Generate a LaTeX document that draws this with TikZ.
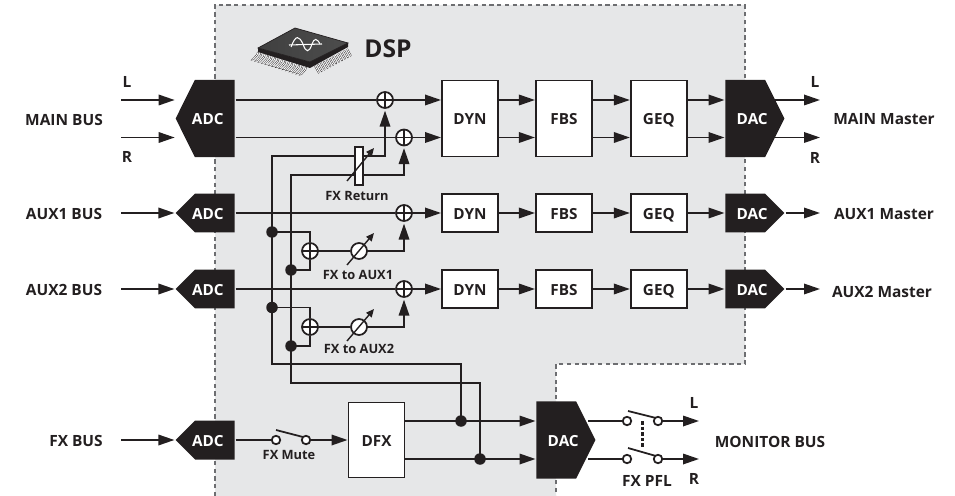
\documentclass[tikz,border=0pt]{standalone}
\usepackage{fontspec}
\setmainfont{Open Sans}
\usetikzlibrary{arrows.meta, positioning, calc, shapes.symbols}
\definecolor{cInk}{HTML}{231F20}
\definecolor{cDSP}{HTML}{E6E7E8}
\definecolor{cEdge}{HTML}{6D6E71}
\newcommand{\toleft}[1]{\makebox[0pt]{#1\hspace{0.28cm}}}
\newcommand{\toright}[1]{\makebox[0pt]{\hspace{0.28cm}#1}}

\begin{document}
\begin{tikzpicture}[
  x=0.02cm, y=-0.02cm, line width=1pt, draw=cInk, text=cInk,
  wire/.style={draw=cInk, line width=1pt},
  arr/.style={wire, -{Triangle[length=3.2mm, width=2.1mm]}},
  tune/.style={wire, line width=0.8pt, -{Triangle[length=1.6mm, width=1.4mm]}},
  box/.style={draw=cInk, line width=1.1pt, fill=white, minimum width=1.12cm, font=\bfseries\fontsize{8.7}{10}\selectfont, inner sep=0pt, text height=7.4pt, text depth=0pt},
  bigbox/.style={box, minimum height=1.52cm},
  smallbox/.style={box, minimum height=0.75cm},
  conv/.style={signal, signal from=nowhere, fill=cInk, text=white, inner sep=0pt, minimum width=1.18cm, font=\bfseries\fontsize{8.7}{10}\selectfont, text height=7.4pt, text depth=0pt},
  bigadc/.style={conv, signal to=west, signal pointer angle=127, minimum height=1.55cm},
  smalladc/.style={conv, signal to=west, signal pointer angle=90, minimum height=0.78cm},
  bigdac/.style={conv, signal to=east, signal pointer angle=127, minimum height=1.55cm},
  smalldac/.style={conv, signal to=east, signal pointer angle=90, minimum height=0.78cm},
  sumnode/.style={circle, draw=cInk, fill=white, inner sep=0pt, minimum size=0.32cm,
    path picture={\draw[cInk] (path picture bounding box.north) -- (path picture bounding box.south)
      (path picture bounding box.west) -- (path picture bounding box.east);}},
  potnode/.style={circle, draw=cInk, fill=white, inner sep=0pt, minimum size=0.32cm},
  contact/.style={circle, draw=cInk, fill=white, inner sep=0pt, minimum size=0.17cm},
  dotnode/.style={circle, fill=cInk, inner sep=0pt, minimum size=0.23cm},
  lbl/.style={font=\bfseries\fontsize{8.8}{11}\selectfont, inner sep=0pt},
  tag/.style={font=\bfseries\fontsize{7.3}{9}\selectfont, inner sep=0pt}
]
\useasboundingbox (0,0) rectangle (955,496);

% DSP area
\fill[cDSP] (215,5) -- (745,5) -- (745,364) -- (556,364) -- (556,496) -- (215,496) -- cycle;
\draw[cEdge, line width=0.8pt, dash pattern=on 2.4pt off 2pt] (215,496) -- (215,5) -- (745,5) -- (745,364) -- (556,364) -- (556,496);

% chip
\foreach \i in {0,...,14} {
  \draw[cInk, line width=0.25pt, double=white, double distance=0.45pt] ($(258,52)!\i/14!(306,67)$) .. controls +(1,3) and +(-4,2) .. +(-4,7);
}
\foreach \i in {0,...,11} {
  \draw[cInk, line width=0.25pt, double=white, double distance=0.45pt] ($(315,66)!\i/11!(347,49)$) .. controls +(2,3) and +(0,2) .. +(4,6);
}
\fill[cInk] (258,48) -- (258,52) -- (310,68) -- (348,47) -- (348,43) -- (310,62) -- cycle;
\shade[left color=black!75, middle color=black!35, right color=black!70, draw=cInk, line width=0.4pt] (295,28) -- (348,43) -- (310,62) -- (258,48) -- cycle;
\draw[white, line width=0.6pt] (289,45) -- (322,44);
\draw[white, line width=0.6pt] (291,47) .. controls (296,34) and (299,36) .. (303,44) .. controls (306,53) and (309,53) .. (312,44) .. controls (314,38) and (317,38) .. (320,44);
\node[font=\bfseries\fontsize{14}{16}\selectfont, inner sep=0pt] (dsplbl) at (388,49) {DSP};

% converters and boxes
\node[bigadc, anchor=east] (adcm) at (235.5,118.5) {\toleft{ADC}};
\node[smalladc, anchor=east] (adca) at (235.5,213) {\toleft{ADC}};
\node[smalladc, anchor=east] (adcb) at (235.5,289) {\toleft{ADC}};
\node[smalladc, anchor=east] (adcf) at (235.5,440) {\toleft{ADC}};

\node[bigbox] (dynm) at (470,118.5) {DYN};
\node[bigbox, right=0.72cm of dynm] (fbsm) {FBS};
\node[bigbox, right=0.74cm of fbsm] (geqm) {GEQ};
\node[bigdac, anchor=west] (dacm) at (724.5,118.5) {\toright{DAC}};

\node[smallbox] (dyna) at (470,213) {DYN};
\node[smallbox, right=0.72cm of dyna] (fbsa) {FBS};
\node[smallbox, right=0.74cm of fbsa] (geqa) {GEQ};
\node[smalldac, anchor=west] (daca) at (724.5,213) {\toright{DAC}};

\node[smallbox] (dynb) at (470,289) {DYN};
\node[smallbox, right=0.72cm of dynb] (fbsb) {FBS};
\node[smallbox, right=0.74cm of fbsb] (geqb) {GEQ};
\node[smalldac, anchor=west] (dacb) at (724.5,289) {\toright{DAC}};

\node[box, minimum height=1.5cm] (dfx) at (376.5,440) {DFX};
\node[bigdac, anchor=west] (dacf) at (535.5,440) {\toright{DAC}};

% mixers, trims, switches
\node[sumnode] (summl) at (385,100) {};
\node[sumnode] (summr) at (404,137.5) {};
\node[sumnode] (suma) at (404,213) {};
\node[sumnode] (sumb) at (404,289) {};
\node[sumnode] (sumfa) at (310,251) {};
\node[sumnode] (sumfb) at (310,327) {};
\node[potnode] (pota) at (359,251) {};
\node[potnode] (potb) at (359,327) {};
\node[contact] (mutea) at (276,440) {};
\node[contact] (muteb) at (306,440) {};
\node[contact] (pfla) at (627,421) {};
\node[contact] (pflb) at (658,421) {};
\node[contact] (pflc) at (627,459) {};
\node[contact] (pfld) at (658,459) {};

\coordinate (fxa) at (272,364);
\coordinate (fxb) at (291,383);
\coordinate (outl) at (820,100);
\coordinate (outr) at (820,137.5);
\coordinate (outa) at (820,213);
\coordinate (outb) at (820,289);
\coordinate (monl) at (699,421);
\coordinate (monr) at (699,459);
\coordinate (inl) at (121,100);
\coordinate (inr) at (121,137.5);
\coordinate (ina) at (121,213);
\coordinate (inb) at (121,289);
\coordinate (inf) at (121,440);

% inputs
\draw[arr] (inl) -- ($(adcm.west)+(0,-18.5)$);
\draw[arr] (inr) -- ($(adcm.west)+(0,19)$);
\draw[arr] (ina) -- (adca.west);
\draw[arr] (inb) -- (adcb.west);
\draw[arr] (inf) -- (adcf.west);

% main row
\draw[wire] ($(adcm.east)+(0,-18.5)$) -- (summl);
\draw[wire] ($(adcm.east)+(0,19)$) -- (summr);
\draw[arr] (summl) -- ($(dynm.west)+(0,-18.5)$);
\draw[arr] (summr) -- ($(dynm.west)+(0,19)$);
\draw[arr] ($(dynm.east)+(0,-18.5)$) -- ($(fbsm.west)+(0,-18.5)$);
\draw[arr] ($(dynm.east)+(0,19)$) -- ($(fbsm.west)+(0,19)$);
\draw[arr] ($(fbsm.east)+(0,-18.5)$) -- ($(geqm.west)+(0,-18.5)$);
\draw[arr] ($(fbsm.east)+(0,19)$) -- ($(geqm.west)+(0,19)$);
\draw[arr] ($(geqm.east)+(0,-18.5)$) -- ($(dacm.west)+(0,-18.5)$);
\draw[arr] ($(geqm.east)+(0,19)$) -- ($(dacm.west)+(0,19)$);
\draw[arr] ($(dacm.east)+(-10,-18.5)$) -- (outl);
\draw[arr] ($(dacm.east)+(-10,19)$) -- (outr);

% aux rows
\draw[wire] (adca.east) -- (suma);
\draw[arr] (suma) -- (dyna);
\draw[arr] (dyna) -- (fbsa);
\draw[arr] (fbsa) -- (geqa);
\draw[arr] (geqa) -- (daca);
\draw[arr] (daca.east) -- (outa);
\draw[wire] (adcb.east) -- (sumb);
\draw[arr] (sumb) -- (dynb);
\draw[arr] (dynb) -- (fbsb);
\draw[arr] (fbsb) -- (geqb);
\draw[arr] (geqb) -- (dacb);
\draw[arr] (dacb.east) -- (outb);

% fx row
\draw[wire] (adcf.east) -- (mutea);
\draw[arr] (muteb) -- (dfx);
\draw[wire] ($(mutea.center)+(0,-10)$) -- ($(muteb.center)+(-3,-3)$);
\draw[arr] ($(dfx.east)+(0,-19)$) -- ($(dacf.west)+(0,-19)$);
\draw[arr] ($(dfx.east)+(0,19)$) -- ($(dacf.west)+(0,19)$);

% fx sends
\node[dotnode] (dfa) at (461,421) {};
\node[dotnode] (dfb) at (480,459) {};
\draw[arr, shorten >=1pt] (dfa.center) |- (fxa) -- (fxa |- 0,156) -| (summl.south);
\draw[arr, shorten >=1pt] (dfb.center) |- (fxb) -- (fxb |- 0,175) -| (summr.south);
\node[dotnode] (daa) at (272,232) {};
\node[dotnode] (dab) at (291,270) {};
\node[dotnode] (dba) at (272,307.5) {};
\node[dotnode] (dbb) at (291,346) {};
\draw[wire] (daa.center) -| (sumfa.north);
\draw[wire] (dab.center) -| (sumfa.south);
\draw[wire] (dba.center) -| (sumfb.north);
\draw[wire] (dbb.center) -| (sumfb.south);
\draw[wire] (sumfa) -- (pota);
\draw[wire] (sumfb) -- (potb);
\draw[arr, shorten >=1pt] (pota) -| (suma.south);
\draw[arr, shorten >=1pt] (potb) -| (sumb.south);
\draw[tune] ($(pota.center)+(-12,14)$) -- ($(pota.center)+(15,-18)$);
\draw[tune] ($(potb.center)+(-12,14)$) -- ($(potb.center)+(15,-18)$);

% fx return trim
\node[draw=cInk, fill=white, inner sep=0pt, minimum width=0.16cm, minimum height=0.76cm] (fxret) at (359,166) {};
\draw[tune] ($(fxret.center)+(-12,15)$) -- ($(fxret.center)+(15,-18)$);

% monitor out
\draw[wire] ($(dacf.east)+(-8,-19)$) -- (pfla);
\draw[wire] ($(dacf.east)+(-8,19)$) -- (pflc);
\draw[arr] (pflb) -- (monl);
\draw[arr] (pfld) -- (monr);
\draw[wire] ($(pfla.center)+(1,-10)$) -- ($(pflb.center)+(-2,-3)$);
\draw[wire] ($(pflc.center)+(1,-11)$) -- ($(pfld.center)+(-2,-3)$);
\draw[wire, line width=1.3pt, dash pattern=on 2pt off 1.2pt] ($(pfla)!0.5!(pflb)$) -- ($(pflc)!0.5!(pfld)+(0,-12)$);

% labels
\node[lbl] (lblin1) at (64,119.5) {MAIN BUS};
\node[lbl] (lblin2) at (64,213.5) {AUX1 BUS};
\node[lbl] (lblin3) at (64,289.5) {AUX2 BUS};
\node[lbl] (lblin4) at (76,440.5) {FX BUS};
\node[lbl] (lblout1) at (884,119.5) {MAIN Master};
\node[lbl] (lblout2) at (884,214.5) {AUX1 Master};
\node[lbl] (lblout3) at (882,291.5) {AUX2 Master};
\node[lbl] (lblmon) at (770,441.5) {MONITOR BUS};
\node[lbl] (lblil) at (127,82) {L};
\node[lbl] (lblir) at (127,157) {R};
\node[lbl] (lblol) at (815,82) {L};
\node[lbl] (lblor) at (815,158) {R};
\node[lbl] (lblml) at (694,403) {L};
\node[lbl] (lblmr) at (694,479) {R};
\node[lbl] (lblpfl) at (647,481) {FX PFL};
\node[tag] (lblret) at (357,196) {FX Return};
\node[tag] (lblfa) at (358,275) {FX to AUX1};
\node[tag] (lblfb) at (359,349) {FX to AUX2};
\node[tag] (lblmute) at (289,455) {FX Mute};
\end{tikzpicture}
\end{document}
